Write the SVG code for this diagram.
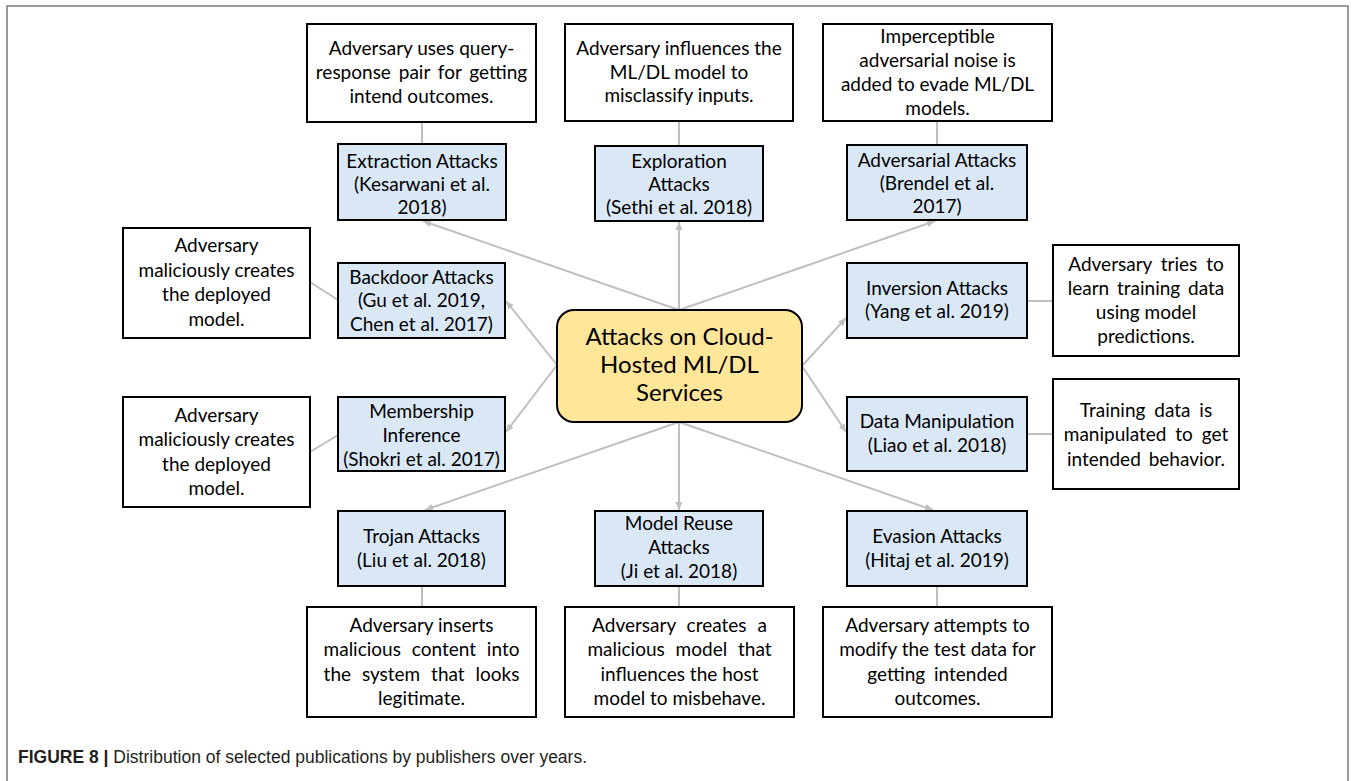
<svg xmlns="http://www.w3.org/2000/svg" width="1354" height="781" viewBox="0 0 1354 781">
<style>
.desc{fill:#ffffff;stroke:#000000;stroke-width:2}
.blue{fill:#DAE8F6;stroke:#000000;stroke-width:2}
.main{fill:#FFE699;stroke:#000000;stroke-width:2}
text{font-family:Lato,"Liberation Sans",sans-serif;font-size:19px;fill:#000000;text-anchor:middle}
.big{font-size:24px}
.con{stroke:#BFBFBF;stroke-width:2;fill:none}
.arr{marker-end:url(#ah)}
.cap{font-family:"Liberation Sans",Arial,sans-serif;font-size:17.5px;text-anchor:start;fill:#231f20}
</style>
<defs>
<marker id="ah" markerUnits="userSpaceOnUse" markerWidth="9" markerHeight="8" refX="8" refY="4" orient="auto">
<path d="M0,0.5 L8,4 L0,7.5 z" fill="#BFBFBF"/>
</marker>
</defs>
<rect width="1354" height="781" fill="#ffffff"/>
<path d="M7,781 V6 H1348 V781" fill="none" stroke="#7a7a7a" stroke-width="1.5"/>

<g id="connectors">
<line class="con arr" x1="679" y1="310" x2="423" y2="221"/>
<line class="con arr" x1="679" y1="310" x2="679" y2="222"/>
<line class="con arr" x1="679" y1="310" x2="935" y2="221"/>
<line class="con arr" x1="557" y1="365" x2="506" y2="301"/>
<line class="con arr" x1="557" y1="365" x2="506" y2="432"/>
<line class="con arr" x1="802" y1="366" x2="846" y2="318"/>
<line class="con arr" x1="802" y1="366" x2="846" y2="432"/>
<line class="con arr" x1="679" y1="422" x2="425" y2="510"/>
<line class="con arr" x1="679" y1="422" x2="679" y2="510"/>
<line class="con arr" x1="679" y1="422" x2="933" y2="510"/>
<line class="con" x1="422" y1="122" x2="422" y2="144"/>
<line class="con" x1="679" y1="121" x2="679" y2="146"/>
<line class="con" x1="937" y1="121" x2="937" y2="145"/>
<line class="con" x1="310" y1="282" x2="338" y2="300"/>
<line class="con" x1="310" y1="452" x2="338" y2="435"/>
<line class="con" x1="1027" y1="301" x2="1053" y2="301"/>
<line class="con" x1="1027" y1="434" x2="1053" y2="434"/>
<line class="con" x1="422" y1="586" x2="422" y2="607"/>
<line class="con" x1="679" y1="586" x2="679" y2="607"/>
<line class="con" x1="937" y1="586" x2="937" y2="607"/>
</g>

<g id="center">
<rect class="main" x="557" y="310" width="245" height="112" rx="17"/>
<text class="big" x="679.5" y="345">Attacks on Cloud-</text>
<text class="big" x="679.5" y="373">Hosted ML/DL</text>
<text class="big" x="679.5" y="401">Services</text>
</g>

<g id="desc-extraction">
<rect class="desc" x="307" y="24" width="229" height="98"/>
<text x="421.5" y="55">Adversary uses query-</text>
<text x="421.5" y="79" word-spacing="3">response pair for getting</text>
<text x="421.5" y="103">intend outcomes.</text>
</g>
<g id="extraction">
<rect class="blue" x="338" y="144" width="168" height="76"/>
<text x="422" y="168">Extraction Attacks</text>
<text x="422" y="191">(Kesarwani et al.</text>
<text x="422" y="214">2018)</text>
</g>

<g id="desc-exploration">
<rect class="desc" x="565" y="24" width="228" height="97"/>
<text x="679" y="55">Adversary influences the</text>
<text x="679" y="79">ML/DL model to</text>
<text x="679" y="102">misclassify inputs.</text>
</g>
<g id="exploration">
<rect class="blue" x="595" y="146" width="168" height="75"/>
<text x="679" y="168">Exploration</text>
<text x="679" y="191">Attacks</text>
<text x="679" y="214">(Sethi et al. 2018)</text>
</g>

<g id="desc-adversarial">
<rect class="desc" x="823" y="24" width="229" height="97"/>
<text x="937.5" y="43">Imperceptible</text>
<text x="937.5" y="67">adversarial noise is</text>
<text x="937.5" y="91">added to evade ML/DL</text>
<text x="937.5" y="115">models.</text>
</g>
<g id="adversarial">
<rect class="blue" x="847" y="145" width="180" height="75"/>
<text x="937" y="167">Adversarial Attacks</text>
<text x="937" y="190">(Brendel et al.</text>
<text x="937" y="213">2017)</text>
</g>

<g id="desc-backdoor">
<rect class="desc" x="123" y="228" width="187" height="110"/>
<text x="216.5" y="252">Adversary</text>
<text x="216.5" y="277">maliciously creates</text>
<text x="216.5" y="301">the deployed</text>
<text x="216.5" y="326">model.</text>
</g>
<g id="backdoor">
<rect class="blue" x="338" y="263" width="167" height="75"/>
<text x="421.5" y="284">Backdoor Attacks</text>
<text x="421.5" y="307">(Gu et al. 2019,</text>
<text x="421.5" y="331">Chen et al. 2017)</text>
</g>

<g id="desc-membership">
<rect class="desc" x="123" y="397" width="187" height="110"/>
<text x="216.5" y="422">Adversary</text>
<text x="216.5" y="446">maliciously creates</text>
<text x="216.5" y="471">the deployed</text>
<text x="216.5" y="495">model.</text>
</g>
<g id="membership">
<rect class="blue" x="338" y="397" width="167" height="74"/>
<text x="421.5" y="418">Membership</text>
<text x="421.5" y="442">Inference</text>
<text x="421.5" y="466">(Shokri et al. 2017)</text>
</g>

<g id="inversion">
<rect class="blue" x="847" y="263" width="180" height="75"/>
<text x="937" y="295">Inversion Attacks</text>
<text x="937" y="318">(Yang et al. 2019)</text>
</g>
<g id="desc-inversion">
<rect class="desc" x="1053" y="245" width="186" height="111"/>
<text x="1146" y="271" word-spacing="4">Adversary tries to</text>
<text x="1146" y="295" word-spacing="3">learn training data</text>
<text x="1146" y="319">using model</text>
<text x="1146" y="343">predictions.</text>
</g>

<g id="data-manipulation">
<rect class="blue" x="847" y="397" width="180" height="74"/>
<text x="937" y="428">Data Manipulation</text>
<text x="937" y="452">(Liao et al. 2018)</text>
</g>
<g id="desc-data">
<rect class="desc" x="1053" y="379" width="186" height="110"/>
<text x="1146" y="417" word-spacing="4">Training data is</text>
<text x="1146" y="441" word-spacing="4">manipulated to get</text>
<text x="1146" y="466" word-spacing="3">intended behavior.</text>
</g>

<g id="trojan">
<rect class="blue" x="338" y="511" width="167" height="75"/>
<text x="421.5" y="543">Trojan Attacks</text>
<text x="421.5" y="567">(Liu et al. 2018)</text>
</g>
<g id="desc-trojan">
<rect class="desc" x="307" y="607" width="229" height="110"/>
<text x="421.5" y="632">Adversary inserts</text>
<text x="421.5" y="656" word-spacing="6">malicious content into</text>
<text x="421.5" y="681" word-spacing="6">the system that looks</text>
<text x="421.5" y="705">legitimate.</text>
</g>

<g id="model-reuse">
<rect class="blue" x="595" y="511" width="168" height="75"/>
<text x="679" y="530">Model Reuse</text>
<text x="679" y="554">Attacks</text>
<text x="679" y="578">(Ji et al. 2018)</text>
</g>
<g id="desc-reuse">
<rect class="desc" x="565" y="607" width="229" height="110"/>
<text x="679.5" y="632" word-spacing="6">Adversary creates a</text>
<text x="679.5" y="656" word-spacing="6">malicious model that</text>
<text x="679.5" y="681">influences the host</text>
<text x="679.5" y="705">model to misbehave.</text>
</g>

<g id="evasion">
<rect class="blue" x="847" y="511" width="180" height="75"/>
<text x="937" y="543">Evasion Attacks</text>
<text x="937" y="567">(Hitaj et al. 2019)</text>
</g>
<g id="desc-evasion">
<rect class="desc" x="823" y="607" width="229" height="110"/>
<text x="937.5" y="632">Adversary attempts to</text>
<text x="937.5" y="656">modify the test data for</text>
<text x="937.5" y="681" word-spacing="4">getting intended</text>
<text x="937.5" y="705">outcomes.</text>
</g>

<g id="caption">
<text class="cap" x="18" y="763"><tspan font-weight="bold">FIGURE 8 |</tspan> Distribution of selected publications by publishers over years.</text>
</g>
</svg>
